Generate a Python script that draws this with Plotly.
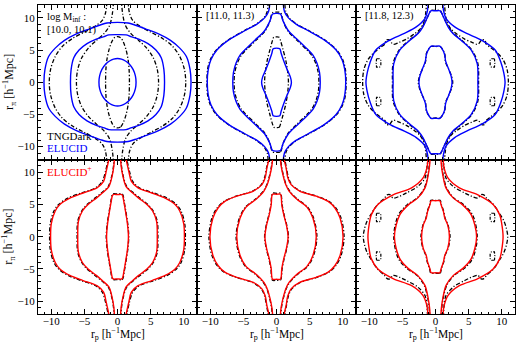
import plotly.graph_objects as go
from plotly.subplots import make_subplots

# ---------------- data: contour levels, first quadrant (r_p >= 0, r_pi >= 0) ----------------
# each contour: list of r_p values and matching r_pi values; a contour whose last r_p is 0 is closed,
# otherwise it leaves the box along the line of sight.
# Panel [10.0, 10.1)
TL_TNG_RP = [[1.8, 1.75, 1.6, 1.3, 0.9, 0.5, 0.0],
             [6.2, 6.0, 5.4, 4.4, 3.2, 2.0, 1.2, 0.8, 0.6],
             [10.3, 10.1, 9.4, 8.3, 6.8, 5.0, 3.4, 2.3, 1.8, 1.6]]
TL_TNG_PI = [[0, 2, 3.5, 5, 6.2, 6.9, 7.1],
             [0, 2, 3.8, 5.3, 6.5, 7.6, 8.8, 10.5, 12.5],
             [0, 2, 4, 5.6, 6.8, 7.8, 8.7, 9.6, 10.8, 12.5]]
TL_ELU_RP = [[2.8, 2.7, 2.35, 1.8, 1.2, 0.6, 0.0],
             [7.1, 7.0, 6.6, 5.8, 4.6, 3.2, 2.0, 1.3, 0.0],
             [11.1, 10.95, 10.4, 9.4, 8.0, 6.2, 4.2, 2.6, 1.6, 0.0]]
TL_ELU_PI = [[0, 1, 2, 2.8, 3.3, 3.6, 3.7],
             [0, 2, 3.8, 5.0, 6.0, 6.7, 7.1, 7.35, 7.4],
             [0, 2, 4, 5.3, 6.5, 7.5, 8.3, 8.9, 9.2, 9.3]]

# Panel [11.0, 11.3)
TM_TNG_RP = [[1.8, 1.7, 1.4, 0.95, 0.6, 0.4, 0.0],
             [6.4, 6.3, 5.9, 5.3, 4.6, 3.1, 1.7, 1.0, 0.6, 0.0],
             [10.5, 10.4, 10.0, 9.1, 7.4, 4.9, 3.1, 1.9, 1.4, 1.25]]
TM_TNG_PI = [[0, 1.5, 3.4, 5.2, 6.5, 7.0, 7.05],
             [0, 1.5, 3, 4.2, 5, 6.5, 8, 9.5, 10.8, 10.9],
             [0, 2, 3.5, 5, 6.5, 8, 9, 10, 11, 12.5]]
TM_ELU_RP = [[2.25, 2.1, 1.6, 1.1, 0.7, 0.5, 0.0],
             [6.6, 6.5, 6.1, 5.5, 4.8, 3.3, 1.8, 1.0, 0.6, 0.0],
             [10.45, 10.3, 9.9, 9.0, 7.3, 4.8, 3.0, 1.8, 1.2, 1.0]]
TM_ELU_PI = [[0, 0.8, 2.0, 3.3, 4.5, 5.2, 5.3],
             [0, 1.5, 3, 4.2, 5, 6.5, 8, 9.5, 10.6, 10.7],
             [0, 2, 3.5, 5, 6.5, 8, 9, 10, 11, 12.5]]

# Panel [11.8, 12.3)
TR_TNG_RP = [[2.6, 2.4, 2.0, 1.5, 1.4, 1.0, 0.7, 0.0],
             [6.5, 6.4, 5.5, 4.0, 2.7, 2.0, 1.3, 0.9, 0.7, 0.0],
             [11.0, 10.8, 10.2, 9.3, 8.3, 7.6, 7.5, 7.0, 6.4, 5.5, 4.4, 3.2, 2.3, 1.7, 1.45, 1.35]]
TR_TNG_PI = [[0, 1.0, 2.0, 3.2, 4.4, 5.2, 5.55, 5.55],
             [0, 2.9, 5.0, 6.5, 7.6, 8.6, 9.9, 10.8, 11.15, 11.15],
             [0, 2.0, 3.5, 4.6, 5.4, 6.0, 6.5, 6.6, 5.9, 6.2, 6.7, 7.5, 8.3, 9.5, 11.0, 12.5]]
TR_ELU_RP = [[2.5, 2.35, 2.0, 1.55, 1.35, 1.0, 0.65, 0.0],
             [6.4, 6.3, 5.4, 3.9, 2.6, 1.9, 1.3, 0.9, 0.7, 0.0],
             [10.5, 10.3, 9.9, 9.0, 7.0, 4.7, 2.9, 1.6, 1.2, 1.1]]
TR_ELU_PI = [[0, 1.0, 2.0, 3.2, 4.4, 5.2, 5.6, 5.6],
             [0, 2.9, 5.0, 6.5, 7.6, 8.6, 9.9, 10.8, 11.1, 11.1],
             [0, 1.5, 3, 5, 6.5, 7.6, 8.6, 9.9, 11.2, 12.5]]

# Panel bottom-left (ELUCID+ vs TNGDark, [10.0, 10.1))
BL_TNG_RP = [[1.7, 1.55, 1.25, 1.0, 0.85, 0.7, 0.0],
             [6.1, 6.0, 5.4, 4.6, 3.4, 2.45, 1.4, 0.85, 0.6, 0.5],
             [10.25, 10.15, 9.6, 8.9, 7.5, 5.5, 3.3, 2.3, 1.8, 1.45, 1.3]]
BL_TNG_PI = [[0, 2, 4, 5.5, 6.4, 6.65, 6.65],
             [0, 2.4, 4, 5, 6, 6.8, 7.8, 9.5, 11, 12.5],
             [0, 2, 4, 5, 6, 6.8, 7.6, 8.6, 10.2, 11.8, 12.5]]
BL_ELU_RP = [[1.65, 1.5, 1.2, 0.95, 0.8, 0.65, 0.0],
             [6.0, 5.9, 5.3, 4.45, 3.2, 2.3, 1.3, 0.8, 0.55, 0.45],
             [10.1, 10.0, 9.4, 8.7, 7.2, 5.2, 3.1, 2.1, 1.7, 1.35, 1.2]]
BL_ELU_PI = [[0, 2, 4, 5.5, 6.3, 6.55, 6.55],
             [0, 2.4, 4, 5, 6, 6.8, 7.8, 9.5, 11, 12.5],
             [0, 2, 4, 5, 6, 6.8, 7.6, 8.6, 10.2, 11.8, 12.5]]

# Panel bottom-middle ([11.0, 11.3))
BM_TNG_RP = [[1.8, 1.55, 1.15, 0.85, 0.6, 0.0],
             [6.1, 5.6, 4.7, 3.1, 2.0, 1.45, 1.05, 0.75, 0.6],
             [10.2, 9.75, 8.95, 7.9, 6.1, 3.6, 2.3, 1.8, 1.5, 1.3, 1.2]]
BM_TNG_PI = [[0, 1.8, 3.4, 4.95, 6.75, 6.75],
             [0, 2.9, 4.6, 5.9, 7.1, 8.1, 9.5, 11, 12.5],
             [0, 2.9, 4.5, 5.5, 6.3, 7.1, 8.1, 9.2, 10.7, 11.8, 12.5]]
BM_ELU_RP = [[1.75, 1.5, 1.1, 0.8, 0.6, 0.0],
             [6.0, 5.5, 4.6, 3.0, 1.9, 1.4, 1.0, 0.7, 0.55],
             [10.05, 9.6, 8.8, 7.8, 6.0, 3.5, 2.2, 1.7, 1.45, 1.2, 1.15]]
BM_ELU_PI = [[0, 1.8, 3.4, 4.95, 6.6, 6.6],
             [0, 2.9, 4.6, 5.9, 7.1, 8.1, 9.5, 11, 12.5],
             [0, 2.9, 4.5, 5.5, 6.3, 7.1, 8.1, 9.2, 10.7, 11.8, 12.5]]

# Panel bottom-right ([11.8, 12.3))
BR_TNG_RP = [[2.2, 1.9, 1.45, 1.25, 0.9, 0.7, 0.0],
             [6.3, 5.6, 4.3, 2.8, 1.7, 1.15, 0.95, 0.85],
             [10.9, 10.7, 10.3, 9.6, 8.8, 7.7, 7.3, 6.9, 6.4, 5.4, 4.4, 2.7, 1.6, 1.3, 1.2]]
BR_TNG_PI = [[0, 1.8, 2.9, 3.9, 4.95, 5.65, 5.65],
             [0, 3.4, 4.95, 6.0, 7.55, 9.6, 11, 12.5],
             [0, 1.3, 2.5, 3.7, 4.95, 6.0, 6.5, 6.55, 6.0, 6.3, 6.8, 7.8, 9.1, 10.7, 12.5]]
BR_ELU_RP = [[2.1, 1.85, 1.4, 1.2, 0.85, 0.65, 0.0],
             [6.2, 5.4, 4.1, 2.7, 1.6, 1.1, 0.9, 0.8],
             [10.2, 10.0, 9.7, 8.7, 6.4, 3.6, 1.9, 1.3, 1.1]]
BR_ELU_PI = [[0, 1.8, 2.9, 3.9, 4.95, 5.6, 5.6],
             [0, 3.4, 4.95, 6.0, 7.55, 9.6, 11, 12.5],
             [0, 2, 3.4, 5.0, 6.5, 7.6, 9.1, 10.7, 12.5]]

# small detached TNGDark contours (islands), centre in first quadrant, plus outline offsets
ISLAND_CENTER_RP = 8.6
ISLAND_CENTER_PI = 3.0
ISLAND_DRP = [0.3, -0.15, -0.35, -0.35, -0.15, 0.3, 0.35, 0.3]
ISLAND_DPI = [0.65, 0.65, 0.4, -0.4, -0.65, -0.65, 0.0, 0.65]

PANEL_LABELS = ["[10.0, 10.1)", "[11.0, 11.3)", "[11.8, 12.3)"]

PANELS = [
    (1, 1, TL_TNG_RP, TL_TNG_PI, TL_ELU_RP, TL_ELU_PI, "blue", False),
    (1, 2, TM_TNG_RP, TM_TNG_PI, TM_ELU_RP, TM_ELU_PI, "blue", False),
    (1, 3, TR_TNG_RP, TR_TNG_PI, TR_ELU_RP, TR_ELU_PI, "blue", True),
    (2, 1, BL_TNG_RP, BL_TNG_PI, BL_ELU_RP, BL_ELU_PI, "red", False),
    (2, 2, BM_TNG_RP, BM_TNG_PI, BM_ELU_RP, BM_ELU_PI, "red", False),
    (2, 3, BR_TNG_RP, BR_TNG_PI, BR_ELU_RP, BR_ELU_PI, "red", True),
]


def full_curve(rp, pi):
    closed = rp[-1] == 0
    rx = list(rp[::-1][:-1]) + list(rp)
    ry = [-p for p in pi[::-1][:-1]] + list(pi)
    lx = [-x for x in rx[::-1]]
    ly = ry[::-1]
    if closed:
        return rx + lx[1:], ry + ly[1:]
    return rx + [None] + lx, ry + [None] + ly


fig = make_subplots(rows=2, cols=3, shared_xaxes=True, shared_yaxes=True,
                    horizontal_spacing=0, vertical_spacing=0)

DASH = "4px,2px,1.2px,2px"

for (r, c, trp, tpi, erp, epi, col, islands) in PANELS:
    for a, b in zip(trp, tpi):
        x, y = full_curve(a, b)
        fig.add_trace(go.Scatter(x=x, y=y, mode="lines", showlegend=False, hoverinfo="skip",
                                 line=dict(color="black", width=1.3, dash=DASH,
                                           shape="spline", smoothing=0.9)), row=r, col=c)
    if islands:
        for sx in (1, -1):
            for sy in (1, -1):
                x = [sx * (ISLAND_CENTER_RP + d) for d in ISLAND_DRP]
                y = [sy * (ISLAND_CENTER_PI + d) for d in ISLAND_DPI]
                fig.add_trace(go.Scatter(x=x, y=y, mode="lines", showlegend=False, hoverinfo="skip",
                                         line=dict(color="black", width=1.2, dash="3px,1.5px,1px,1.5px")),
                              row=r, col=c)
    for a, b in zip(erp, epi):
        x, y = full_curve(a, b)
        fig.add_trace(go.Scatter(x=x, y=y, mode="lines", showlegend=False, hoverinfo="skip",
                                 line=dict(color=col, width=1.4, shape="spline", smoothing=0.9)),
                      row=r, col=c)

FONT = "Liberation Serif"
axis_common = dict(range=[-12, 12], tick0=0, dtick=5, ticks="inside", ticklen=5, tickwidth=1,
                   tickcolor="black", showline=True, linecolor="black", linewidth=1,
                   mirror="allticks", showgrid=False, zeroline=False, automargin=False,
                   tickfont=dict(family=FONT, size=11, color="black"),
                   minor=dict(dtick=1, ticks="inside", ticklen=2.5, tickwidth=0.8,
                              tickcolor="black", showgrid=False))
fig.update_xaxes(**axis_common)
fig.update_xaxes(ticklabelstandoff=-3)
fig.update_yaxes(**axis_common)

ann = []
# panel labels
ann.append(dict(text="log M<sub>inf</sub> :", x=-10.9, y=10.0, xref="x", yref="y",
                xanchor="left", yanchor="middle", showarrow=False,
                font=dict(family=FONT, size=10.5, color="black")))
ann.append(dict(text=PANEL_LABELS[0], x=-10.9, y=8.1, xref="x", yref="y",
                xanchor="left", yanchor="middle", showarrow=False,
                font=dict(family=FONT, size=10.5, color="black")))
ann.append(dict(text=PANEL_LABELS[1], x=-10.9, y=10.3, xref="x2", yref="y2",
                xanchor="left", yanchor="middle", showarrow=False,
                font=dict(family=FONT, size=10.5, color="black")))
ann.append(dict(text=PANEL_LABELS[2], x=-10.9, y=10.3, xref="x3", yref="y3",
                xanchor="left", yanchor="middle", showarrow=False,
                font=dict(family=FONT, size=10.5, color="black")))
ann.append(dict(text="TNGDark", x=-11.0, y=-8.4, xref="x", yref="y",
                xanchor="left", yanchor="middle", showarrow=False,
                font=dict(family=FONT, size=11, color="black")))
ann.append(dict(text="ELUCID", x=-11.0, y=-10.2, xref="x", yref="y",
                xanchor="left", yanchor="middle", showarrow=False,
                font=dict(family=FONT, size=11, color="blue")))
ann.append(dict(text="ELUCID<sup>+</sup>", x=-11.0, y=10.2, xref="x4", yref="y4",
                xanchor="left", yanchor="middle", showarrow=False,
                font=dict(family=FONT, size=11, color="red")))

# axis titles
W, H = 520, 343
L, R, T, B = 38, 5, 5, 29
pw, ph = W - L - R, H - T - B
for yc in (82, 236.7):
    ann.append(dict(text="r<sub>π</sub> [h<sup>−1</sup>Mpc]", x=(9 - L) / pw, y=1 - (yc - T) / ph,
                    xref="paper", yref="paper", textangle=-90, showarrow=False,
                    xanchor="center", yanchor="middle",
                    font=dict(family=FONT, size=12, color="black")))
for xc in (117.7, 276.7, 435.7):
    ann.append(dict(text="r<sub>p</sub> [h<sup>−1</sup>Mpc]", x=(xc - L) / pw, y=-(324 - (H - B)) / ph,
                    xref="paper", yref="paper", showarrow=False,
                    xanchor="center", yanchor="top",
                    font=dict(family=FONT, size=11.5, color="black")))

fig.update_layout(width=W, height=H, margin=dict(l=L, r=R, t=T, b=B),
                  paper_bgcolor="white", plot_bgcolor="white",
                  annotations=ann, showlegend=False)

fig.write_html("out.html", config={"displayModeBar": False},
               post_script="document.body.style.margin='0px';")
